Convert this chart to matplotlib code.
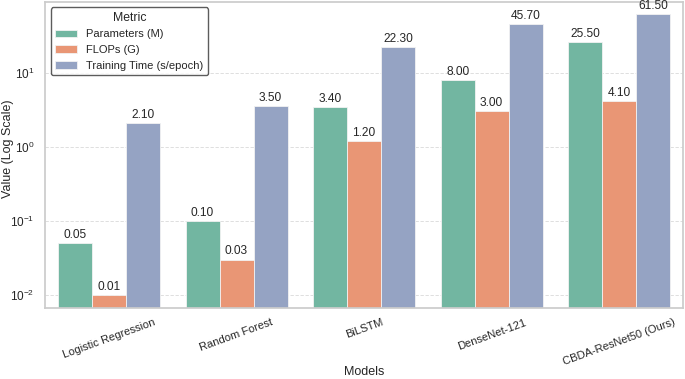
import matplotlib
matplotlib.use("Agg")
import matplotlib.pyplot as plt
import seaborn as sns
import pandas as pd

# dane z wykresu
models = ["Logistic Regression", "Random Forest", "BiLSTM", "DenseNet-121", "CBDA-ResNet50 (Ours)"]
params_m = [0.05, 0.10, 3.40, 8.00, 25.50]
flops_g = [0.01, 0.03, 1.20, 3.00, 4.10]
train_time = [2.10, 3.50, 22.30, 45.70, 61.50]
metrics = ["Parameters (M)", "FLOPs (G)", "Training Time (s/epoch)"]

rows = []
for i, m in enumerate(models):
    for name, vals in zip(metrics, [params_m, flops_g, train_time]):
        rows.append({"Models": m, "Metric": name, "Value": vals[i]})
df = pd.DataFrame(rows)

sns.set_theme(style="whitegrid")
plt.rcParams["font.family"] = ["Liberation Sans", "DejaVu Sans"]

fig, ax = plt.subplots(figsize=(6.85, 3.79), dpi=100)
sns.barplot(data=df, x="Models", y="Value", hue="Metric", palette="Set2", ax=ax,
            edgecolor="#f2f2f2", linewidth=0.6)
ax.set_yscale("log")
ax.set_ylim(0.0067, 90)
ax.set_xlim(-0.5, 4.5)

for cont in ax.containers:
    ax.bar_label(cont, fmt="%.2f", fontsize=8.6, padding=1.5)

ax.grid(False)
ax.yaxis.grid(True, which="major", linestyle=(0, (4, 2)), linewidth=0.6,
              color="#d9d9d9")
ax.set_xlabel("Models", fontsize=9)
ax.set_ylabel("Value (Log Scale)", fontsize=9)
ax.xaxis.set_label_coords(0.5, -0.19)
ax.yaxis.set_label_coords(-0.049, 0.52)
ax.tick_params(axis="x", labelsize=8, rotation=20, pad=1)
ax.tick_params(axis="y", labelsize=8.5, pad=2)

leg = ax.legend(title="Metric", fontsize=8, title_fontsize=8.8, loc="upper left",
                frameon=True, edgecolor="#333333")

fig.subplots_adjust(left=0.066, right=0.997, top=0.995, bottom=0.188)
fig.savefig("out.png", dpi=100)
